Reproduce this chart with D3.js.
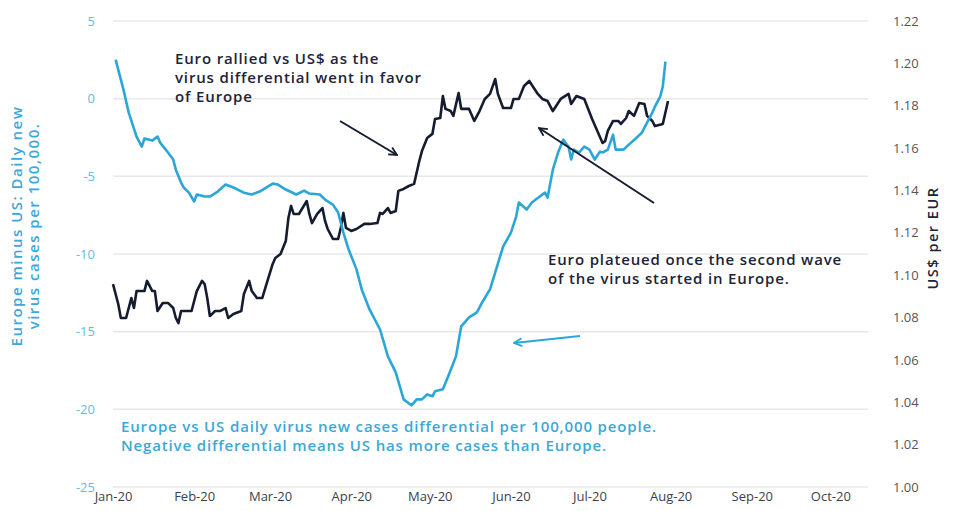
<!DOCTYPE html>
<html>
<head>
<meta charset="utf-8">
<script src="https://cdn.jsdelivr.net/npm/d3@7"></script>
<style>
  body { margin: 0; background: #fff; }
  svg { display: block; font-family: "Open Sans", sans-serif; }
</style>
</head>
<body>
<div id="chart"></div>
<script>
    const W = 954
    const H = 511

    // Europe minus US daily new cases per 100,000 (left axis)
    const caseDates = ["2020-01-02","2020-01-05","2020-01-07","2020-01-10","2020-01-12","2020-01-13","2020-01-16","2020-01-18","2020-01-19","2020-01-22","2020-01-24","2020-01-25","2020-01-27","2020-01-28","2020-01-30",
        "2020-02-01","2020-02-02","2020-02-05","2020-02-07","2020-02-10","2020-02-13","2020-02-16","2020-02-20","2020-02-23","2020-02-26",
        "2020-03-02","2020-03-04","2020-03-07","2020-03-11","2020-03-14","2020-03-16","2020-03-20","2020-03-22","2020-03-25","2020-03-27","2020-03-29","2020-03-31",
        "2020-04-03","2020-04-05","2020-04-08","2020-04-12","2020-04-15","2020-04-18","2020-04-21","2020-04-24","2020-04-26","2020-04-28","2020-04-30",
        "2020-05-02","2020-05-03","2020-05-06","2020-05-08","2020-05-11","2020-05-13","2020-05-16","2020-05-19","2020-05-21","2020-05-24","2020-05-26","2020-05-29",
        "2020-06-01","2020-06-03","2020-06-04","2020-06-07","2020-06-09","2020-06-12","2020-06-14","2020-06-15","2020-06-17","2020-06-19","2020-06-21","2020-06-23","2020-06-24","2020-06-25","2020-06-27","2020-06-29",
        "2020-07-01","2020-07-03","2020-07-05","2020-07-06","2020-07-08","2020-07-10","2020-07-11","2020-07-14","2020-07-16","2020-07-19","2020-07-21","2020-07-23","2020-07-25","2020-07-26","2020-07-28","2020-07-29","2020-07-30"]
    const caseValues = [2.51,0.58,-0.90,-2.44,-3.09,-2.57,-2.70,-2.44,-2.83,-3.47,-3.92,-4.57,-5.40,-5.72,-6.05,
        -6.62,-6.17,-6.30,-6.30,-5.98,-5.53,-5.72,-6.05,-6.17,-5.98,
        -5.47,-5.53,-5.85,-6.17,-5.92,-6.11,-6.17,-6.50,-6.82,-7.33,-8.62,-9.71,
        -10.99,-12.28,-13.57,-14.86,-16.59,-17.62,-19.36,-19.74,-19.36,-19.36,-19.04,
        -19.16,-18.84,-18.71,-17.88,-16.59,-14.66,-14.08,-13.76,-13.12,-12.28,-11.19,-9.52,
        -8.62,-7.59,-6.69,-7.14,-6.69,-6.30,-6.05,-6.37,-4.57,-3.47,-2.64,-3.09,-3.92,-3.28,-3.47,-3.09,
        -3.28,-3.92,-3.41,-3.47,-3.28,-2.32,-3.28,-3.28,-2.96,-2.51,-2.19,-1.54,-0.90,-0.51,0.13,0.77,2.38]

    // US$ per EUR (right axis)
    const fxDates = ["2020-01-01","2020-01-03","2020-01-04","2020-01-06","2020-01-08","2020-01-09","2020-01-10","2020-01-13","2020-01-14","2020-01-16","2020-01-17","2020-01-18","2020-01-20","2020-01-22","2020-01-24","2020-01-25","2020-01-26","2020-01-27","2020-01-31",
        "2020-02-02","2020-02-04","2020-02-05","2020-02-06","2020-02-07","2020-02-09","2020-02-11","2020-02-13","2020-02-14","2020-02-16","2020-02-19","2020-02-20","2020-02-22","2020-02-23","2020-02-25","2020-02-27","2020-02-29",
        "2020-03-02","2020-03-03","2020-03-05","2020-03-07","2020-03-08","2020-03-09","2020-03-10","2020-03-12","2020-03-15","2020-03-16","2020-03-17","2020-03-19","2020-03-21","2020-03-22","2020-03-23","2020-03-25","2020-03-27","2020-03-28","2020-03-29","2020-03-30",
        "2020-04-01","2020-04-03","2020-04-06","2020-04-08","2020-04-11","2020-04-12","2020-04-13","2020-04-15","2020-04-16","2020-04-18","2020-04-19","2020-04-21","2020-04-23","2020-04-25","2020-04-27","2020-04-28","2020-04-30",
        "2020-05-02","2020-05-03","2020-05-05","2020-05-06","2020-05-07","2020-05-09","2020-05-10","2020-05-12","2020-05-13","2020-05-16","2020-05-18","2020-05-20","2020-05-22","2020-05-24","2020-05-26","2020-05-27","2020-05-29",
        "2020-06-01","2020-06-02","2020-06-04","2020-06-06","2020-06-08","2020-06-11","2020-06-13","2020-06-15","2020-06-17","2020-06-20","2020-06-23","2020-06-24","2020-06-26","2020-06-29",
        "2020-07-02","2020-07-04","2020-07-06","2020-07-07","2020-07-08","2020-07-10","2020-07-12","2020-07-13","2020-07-15","2020-07-16","2020-07-18","2020-07-20","2020-07-22","2020-07-23","2020-07-25","2020-07-26","2020-07-29","2020-07-31"]
    const fxValues = [1.0958,1.0864,1.0798,1.0798,1.0892,1.0845,1.0925,1.0925,1.0973,1.0925,1.0925,1.0831,1.0869,1.0869,1.0845,1.0798,1.0774,1.0831,1.0831,
        1.0925,1.0973,1.0958,1.0892,1.0807,1.0831,1.0831,1.0845,1.0798,1.0817,1.0831,1.0911,1.0973,1.0925,1.0892,1.0892,1.0973,
        1.1053,1.1081,1.1100,1.1161,1.1270,1.1327,1.1289,1.1289,1.1350,1.1289,1.1246,1.1289,1.1317,1.1256,1.1218,1.1171,1.1171,1.1223,1.1294,1.1223,
        1.1209,1.1218,1.1242,1.1242,1.1246,1.1294,1.1289,1.1317,1.1294,1.1303,1.1398,1.1407,1.1421,1.1431,1.1539,1.1586,1.1648,
        1.1667,1.1737,1.1742,1.1846,1.1785,1.1775,1.1752,1.1860,1.1785,1.1785,1.1728,1.1775,1.1832,1.1856,1.1926,1.1856,1.1789,
        1.1789,1.1832,1.1832,1.1893,1.1917,1.1860,1.1832,1.1822,1.1775,1.1832,1.1856,1.1808,1.1846,1.1832,
        1.1737,1.1681,1.1624,1.1634,1.1681,1.1728,1.1728,1.1714,1.1742,1.1775,1.1752,1.1813,1.1808,1.1752,1.1728,1.1704,1.1714,1.1822]

    const leftTicks = [5, 0, -5, -10, -15, -20, -25]
    const rightTicks = [1.22, 1.20, 1.18, 1.16, 1.14, 1.12, 1.10, 1.08, 1.06, 1.04, 1.02, 1.00]
    const monthTicks = ["2020-01-01","2020-02-01","2020-03-01","2020-04-01","2020-05-01","2020-06-01","2020-07-01","2020-08-01","2020-09-01","2020-10-01"]
    const monthLabels = ["Jan-20","Feb-20","Mar-20","Apr-20","May-20","Jun-20","Jul-20","Aug-20","Sep-20","Oct-20"]

    const blue = "#2aa6d8"
    const navy = "#151c30"

    const parse = d3.timeParse("%Y-%m-%d")

    const svg = d3.select("#chart")
        .append("svg")
        .attr("width", W)
        .attr("height", H)

    const x = d3.scaleTime()
        .domain([parse("2020-01-01"), parse("2020-10-15")])
        .range([113, 867])

    const yL = d3.scaleLinear().domain([-25, 5]).range([487, 21])
    const yR = d3.scaleLinear().domain([1.00, 1.22]).range([487, 21])

    // gridlines
    svg.append("g")
        .selectAll("line")
        .data(leftTicks)
        .join("line")
        .attr("x1", 113)
        .attr("x2", 868)
        .attr("y1", d => yL(d))
        .attr("y2", d => yL(d))
        .style("stroke", "#e8e8e8")
        .style("stroke-width", 1.5)

    // left axis (plain hyphen for negatives, like the original)
    const gL = svg.append("g")
        .attr("transform", "translate(95,0)")
        .call(d3.axisLeft(yL).tickValues(leftTicks).tickFormat(d => String(d)).tickSize(0).tickPadding(0))
    gL.select(".domain").remove()
    gL.selectAll("text")
        .style("font-size", "13px")
        .style("fill", "#6cb9dc")
        .style("font-family", "Open Sans, sans-serif")

    // right axis
    const gR = svg.append("g")
        .attr("transform", "translate(893,0)")
        .call(d3.axisRight(yR).tickValues(rightTicks).tickFormat(d3.format(".2f")).tickSize(0).tickPadding(0))
    gR.select(".domain").remove()
    gR.selectAll("text")
        .style("font-size", "13px")
        .style("fill", "#555")
        .style("font-family", "Open Sans, sans-serif")

    // bottom axis
    const gX = svg.append("g")
        .attr("transform", "translate(0,492)")
        .call(d3.axisBottom(x)
            .tickValues(monthTicks.map(parse))
            .tickFormat((d, i) => monthLabels[i])
            .tickSize(0).tickPadding(0))
    gX.select(".domain").remove()
    gX.selectAll("text")
        .style("font-size", "13px")
        .style("fill", "#3a3f4c")
        .style("font-family", "Open Sans, sans-serif")

    // axis titles
    const leftTitle = svg.append("text")
        .attr("transform", "translate(22,226) rotate(-90)")
        .attr("text-anchor", "middle")
        .style("font-size", "15px")
        .style("font-weight", 600)
        .style("letter-spacing", "1.5px")
        .style("fill", "#3aa8d8")
    leftTitle.append("tspan").attr("x", 0).attr("dy", 0).text("Europe minus US: Daily new")
    leftTitle.append("tspan").attr("x", 0).attr("dy", 17).text("virus cases per 100,000.")

    svg.append("text")
        .attr("transform", "translate(938,238) rotate(-90)")
        .attr("text-anchor", "middle")
        .style("font-size", "14.5px")
        .style("font-weight", 600)
        .style("letter-spacing", "1.5px")
        .style("fill", "#1c2438")
        .text("US$ per EUR")

    // lines
    const caseData = caseDates.map((d, i) => ({date: parse(d), value: caseValues[i]}))
    const fxData = fxDates.map((d, i) => ({date: parse(d), value: fxValues[i]}))

    svg.append("path")
        .datum(fxData)
        .attr("d", d3.line().x(d => x(d.date)).y(d => yR(d.value)))
        .style("fill", "none")
        .style("stroke", navy)
        .style("stroke-width", 2.6)
        .style("stroke-linejoin", "round")

    svg.append("path")
        .datum(caseData)
        .attr("d", d3.line().x(d => x(d.date)).y(d => yL(d.value)))
        .style("fill", "none")
        .style("stroke", blue)
        .style("stroke-width", 2.6)
        .style("stroke-linejoin", "round")

    // arrow markers
    const defs = svg.append("defs")
    function addMarker(id, color) {
        defs.append("marker")
            .attr("id", id)
            .attr("viewBox", "0 0 10 10")
            .attr("refX", 9)
            .attr("refY", 5)
            .attr("markerWidth", 10)
            .attr("markerHeight", 10)
            .attr("markerUnits", "userSpaceOnUse")
            .attr("orient", "auto")
            .append("path")
            .attr("d", "M1,1 L9,5 L1,9")
            .style("fill", "none")
            .style("stroke", color)
            .style("stroke-width", 1.8)
    }
    addMarker("arrow-navy", navy)
    addMarker("arrow-blue", blue)

    const arrows = [
        {x1: 340, y1: 121, x2: 397, y2: 155, color: navy, m: "arrow-navy"},
        {x1: 654, y1: 203, x2: 539, y2: 128, color: navy, m: "arrow-navy"},
        {x1: 580, y1: 336, x2: 514, y2: 343, color: blue, m: "arrow-blue"}
    ]
    svg.append("g")
        .selectAll("line")
        .data(arrows)
        .join("line")
        .attr("x1", d => d.x1).attr("y1", d => d.y1)
        .attr("x2", d => d.x2).attr("y2", d => d.y2)
        .style("stroke", d => d.color)
        .style("stroke-width", 2)
        .attr("marker-end", d => "url(#" + d.m + ")")

    // annotations
    const notes = [
        {x: 175, y: 64, color: "#1c2438", lines: ["Euro rallied vs US$ as the", "virus differential went in favor", "of Europe"]},
        {x: 548, y: 265, color: "#1c2438", lines: ["Euro plateued once the second wave", "of the virus started in Europe."]},
        {x: 121, y: 432, color: "#3aa8d8", lines: ["Europe vs US daily virus new cases differential per 100,000 people.", "Negative differential means US has more cases than Europe."]}
    ]
    notes.forEach(n => {
        const t = svg.append("text")
            .attr("x", n.x)
            .attr("y", n.y)
            .style("font-size", "15px")
            .style("font-weight", 600)
            .style("letter-spacing", "0.85px")
            .style("fill", n.color)
        n.lines.forEach((l, i) => {
            t.append("tspan").attr("x", n.x).attr("dy", i === 0 ? 0 : 19).text(l)
        })
    })
</script>
</body>
</html>
